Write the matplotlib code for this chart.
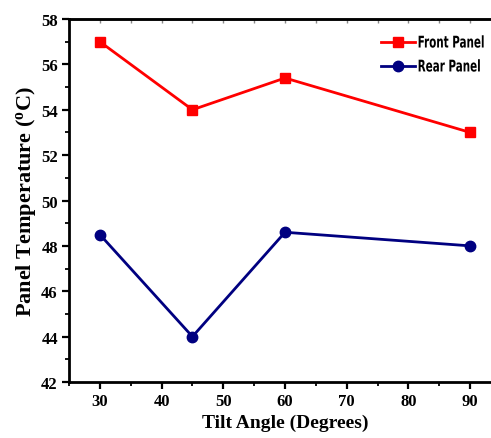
import matplotlib
matplotlib.use("Agg")
import matplotlib.pyplot as plt
from matplotlib.ticker import MultipleLocator, NullFormatter
from matplotlib.patheffects import AbstractPathEffect
from matplotlib.transforms import Affine2D

tilt = [30, 45, 60, 90]
front = [57.0, 54.0, 55.4, 53.0]
rear = [48.5, 44.0, 48.6, 48.0]

serif = ['Liberation Serif', 'DejaVu Serif']
plt.rcParams['mathtext.fontset'] = 'custom'
plt.rcParams['mathtext.rm'] = 'Liberation Serif'
plt.rcParams['mathtext.bf'] = 'Liberation Serif:bold'


class TallText(AbstractPathEffect):
    """Stretch glyphs vertically (imitates a tall condensed display face)."""
    def __init__(self, sy=1.4, shift=-15):
        super().__init__()
        self.sy = sy
        self.shift = shift

    def draw_path(self, renderer, gc, tpath, affine, rgbFace=None):
        new_aff = Affine2D().scale(1.0, self.sy).translate(0, self.shift) + affine
        renderer.draw_path(gc, tpath, new_aff, rgbFace)


fig = plt.figure(figsize=(4.91, 4.39), dpi=100)
ax = fig.add_axes([0.1405, 0.1276, 0.88, 0.8268])

ax.plot(tilt, front, color='#FF0000', lw=2.0, marker='s', ms=7.5, label='Front Panel')
ax.plot(tilt, rear, color='#000080', lw=2.0, marker='o', ms=7.5, label='Rear Panel')

ax.set_xlim(25, 95)
ax.set_ylim(42, 58)
ax.xaxis.set_major_locator(MultipleLocator(10))
ax.xaxis.set_minor_locator(MultipleLocator(5))
ax.yaxis.set_major_locator(MultipleLocator(2))
ax.yaxis.set_minor_locator(MultipleLocator(1))

for s in ['left', 'bottom']:
    ax.spines[s].set_linewidth(2.0)
ax.spines['top'].set_linewidth(1.8)
ax.spines['right'].set_visible(False)

ax.tick_params(axis='both', which='major', direction='out', length=5, width=1.6,
               labelsize=12, pad=3)
ax.tick_params(axis='both', which='minor', direction='out', length=3, width=1.3)

sec = ax.secondary_xaxis('top')
sec.xaxis.set_major_locator(MultipleLocator(10))
sec.xaxis.set_minor_locator(MultipleLocator(5))
sec.xaxis.set_major_formatter(NullFormatter())
sec.tick_params(axis='x', which='both', direction='in', length=3, width=1.0, color='#888888')
sec.spines['top'].set_linewidth(1.8)

for lab in ax.get_xticklabels() + ax.get_yticklabels():
    lab.set_fontfamily(serif)
    lab.set_fontweight('bold')

ax.set_xlabel('Tilt Angle (Degrees)', fontsize=14, fontweight='bold', family=serif, labelpad=3)
ax.set_ylabel('Panel Temperature ($\\mathbf{^{o}}$C)', fontsize=16, fontweight='bold',
              family=serif, labelpad=2)

leg = ax.legend(loc='upper left', bbox_to_anchor=(0.711, 0.9665), frameon=False,
                prop={'family': 'DejaVu Sans', 'weight': 'bold', 'size': 8.3, 'stretch': 'condensed'},
                handlelength=2.95, handletextpad=0.25, labelspacing=0.95, borderaxespad=0)
for t in leg.get_texts():
    t.set_path_effects([TallText(1.4, -15)])

fig.savefig('out.png', dpi=100)
